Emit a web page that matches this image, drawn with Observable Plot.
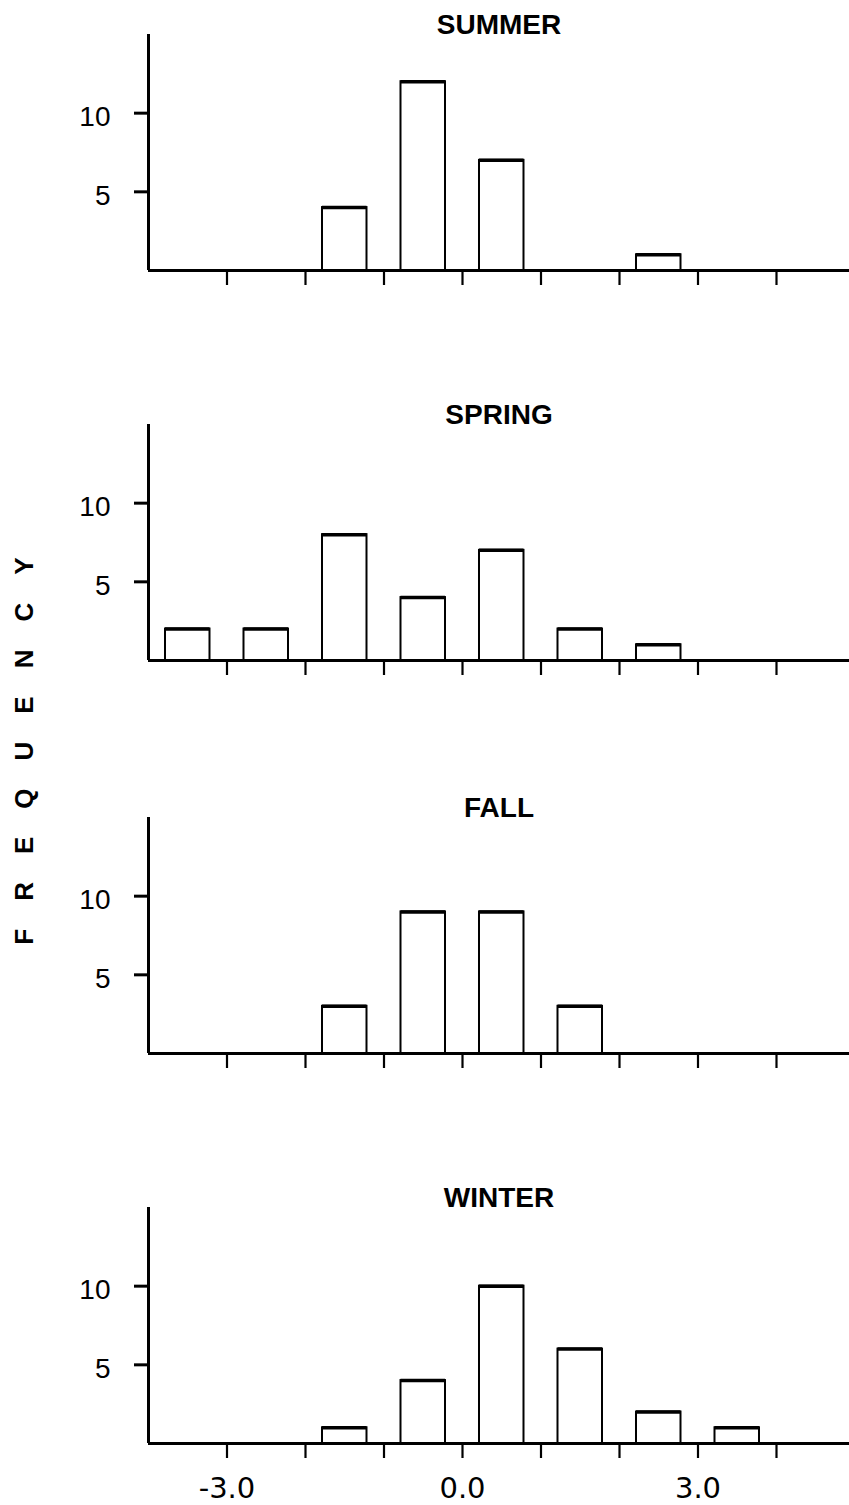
<!DOCTYPE html>
<html>
<head>
<meta charset="utf-8">
<script src="https://cdn.jsdelivr.net/npm/d3@7"></script>
<script src="https://cdn.jsdelivr.net/npm/@observablehq/plot@0.6"></script>
<style>
  html, body { margin: 0; padding: 0; background: #fff; }
  #chart { position: relative; width: 849px; height: 1505px; overflow: hidden; background: #fff; }
  #chart svg { display: block; }
  #ylabel {
    position: absolute; left: 25px; top: 751px;
    width: 520px; height: 32px; margin-left: -260px; margin-top: -16px;
    transform: rotate(-90deg); transform-origin: 50% 50%;
    text-align: center; line-height: 32px; white-space: nowrap;
    font: bold 26px "Liberation Sans", Arial, sans-serif;
    letter-spacing: 28px; padding-left: 28px; box-sizing: border-box; color: #000;
  }
</style>
</head>
<body>
<div id="chart"><div id="ylabel">FREQUENCY</div></div>
<script>
// ---- data ----
const seasons = ["SUMMER", "SPRING", "FALL", "WINTER"];

const summerBinStart = [-2, -1, 0, 2];
const summerCounts   = [4, 12, 7, 1];

const springBinStart = [-4, -3, -2, -1, 0, 1, 2];
const springCounts   = [2, 2, 8, 4, 7, 2, 1];

const fallBinStart = [-2, -1, 0, 1];
const fallCounts   = [3, 9, 9, 3];

const winterBinStart = [-2, -1, 0, 1, 2, 3];
const winterCounts   = [1, 4, 10, 6, 2, 1];

const binWidth = 1;
const xTicks = [-3, -2, -1, 0, 1, 2, 3, 4];
const xLabelledTicks = [-3, 0, 3];
const xLabelTexts = ["-3.0", "0.0", "3.0"];
const yTicks = [5, 10];
const xDomain = [-4, 4.93];
const yDomain = [0, 15];

// ---- drawing ----
const font = '"Liberation Sans", Arial, sans-serif';

function panel(name, starts, counts, heightPx, marginBottom, showLabels) {
  const data = starts.map((s, i) => ({lo: s, hi: s + binWidth, n: counts[i]}));
  const marks = [
    Plot.rectY(data, {x1: "lo", x2: "hi", y: "n", insetLeft: 17, insetRight: 17,
      fill: "white", stroke: "black", strokeWidth: 2}),
    Plot.ruleY(data, {y: "n", x1: "lo", x2: "hi", insetLeft: 17, insetRight: 17,
      stroke: "black", strokeWidth: 3.5}),
    Plot.axisX({ticks: xTicks, tickSize: 15, strokeWidth: 2.2, label: null, tickFormat: () => ""}),
    Plot.axisY({ticks: yTicks, tickSize: 14, strokeWidth: 3, label: null, tickFormat: () => ""}),
    Plot.axisY({ticks: yTicks, tickSize: 0, tickPadding: 38, dy: 4, label: null, fontSize: 28}),
    Plot.ruleY([yDomain[0]], {stroke: "black", strokeWidth: 3}),
    Plot.ruleX([xDomain[0]], {y1: yDomain[0], y2: yDomain[1], stroke: "black", strokeWidth: 3}),
    Plot.text([name], {frameAnchor: "top", lineAnchor: "middle", dy: -9, fontSize: 28,
      fontWeight: "bold", fill: "black"})
  ];
  if (showLabels) {
    marks.push(Plot.axisX({ticks: xLabelledTicks, tickSize: 0, tickPadding: 34, label: null,
      fontSize: 29, fontFamily: '"DejaVu Sans", sans-serif',
      tickFormat: d => xLabelTexts[xLabelledTicks.indexOf(d)]}));
  }
  return Plot.plot({
    width: 849,
    height: heightPx,
    marginLeft: 148,
    marginRight: 0,
    marginTop: 34,
    marginBottom: marginBottom,
    style: {fontFamily: font, fontSize: "28px", color: "black", background: "white", overflow: "visible"},
    x: {domain: xDomain, label: null},
    y: {domain: yDomain, label: null},
    marks
  });
}

const chart = document.getElementById("chart");
chart.appendChild(panel(seasons[0], summerBinStart, summerCounts, 390, 120, false));
chart.appendChild(panel(seasons[1], springBinStart, springCounts, 393, 123, false));
chart.appendChild(panel(seasons[2], fallBinStart, fallCounts, 390, 120, false));
chart.appendChild(panel(seasons[3], winterBinStart, winterCounts, 332, 62, true));
</script>
</body>
</html>
